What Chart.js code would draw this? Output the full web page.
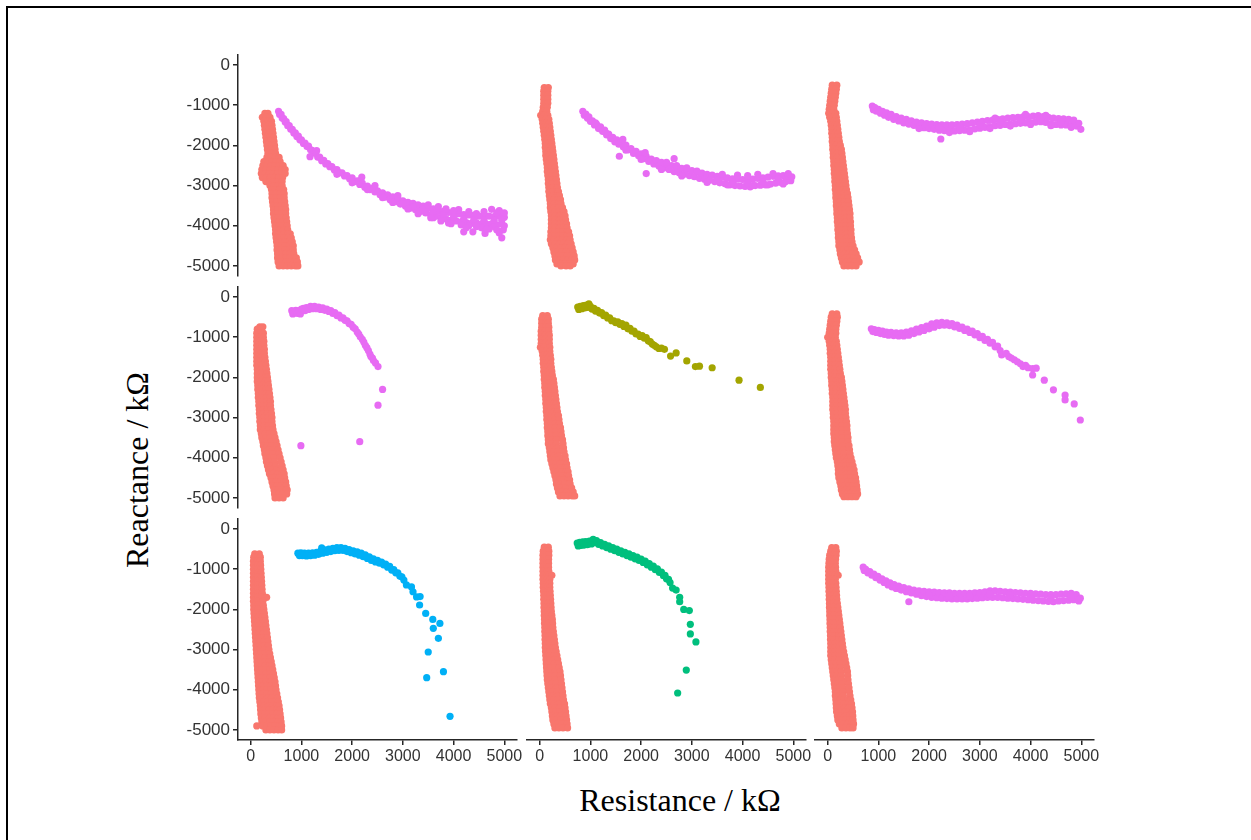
<!DOCTYPE html>
<html><head><meta charset="utf-8">
<script src="https://cdn.jsdelivr.net/npm/chart.js@4.4.0/dist/chart.umd.min.js"></script>
<style>
html,body{margin:0;padding:0;background:#fff;}
body{width:1251px;height:840px;overflow:hidden;position:relative;}
.frame{position:absolute;left:6px;top:6px;width:1400px;height:1000px;border-left:2.5px solid #000;border-top:2.5px solid #000;}
canvas{position:absolute;}
.title{position:absolute;font-family:'Liberation Serif','Times New Roman',serif;font-size:32px;color:#000;white-space:nowrap;line-height:1;}
</style></head><body>
<div class="frame"></div>
<div class="title" id="ytitle" style="left:137px;top:470px;transform:translate(-50%,-50%) rotate(-90deg);">Reactance / kΩ</div>
<div class="title" id="xtitle" style="left:680px;top:800px;transform:translate(-50%,-50%);">Resistance / kΩ</div>
<script>
// ---- colours ----
const RED = '#F8766D', MAGENTA = '#E76BF3', OLIVE = '#A3A500', GREEN = '#00BF7D', BLUE = '#00B0F6';
// ---- axes ----
const xTicks = [0, 1000, 2000, 3000, 4000, 5000];
const yTicks = [0, -1000, -2000, -3000, -4000, -5000];
const xRange = [-250, 5250];
const yRange = [-5250, 250];

// ---- data ----
// Red (reference) streaks: each row is [Reactance, Resistance, Resistance, ...] read off one horizontal slice
const panel1Red = [[-1200,280,340],[-1300,230,310,380],[-1400,260,340,410],[-1500,270,350,420],[-1600,280,360,430],[-1700,290,370,440],[-1800,300,380,450],[-1900,310,390,460],[-2000,320,400,470],[-2100,330,410,480],[-2200,340,420,490],[-2300,320,400,480,560],[-2400,260,340,420,500,580],[-2500,240,320,400,480,560,640],[-2600,220,300,380,460,540,620,680],[-2700,210,290,370,450,530,610,680],[-2800,230,310,390,470,550,630],[-2900,300,380,460,540,620],[-3000,380,460,540,620],[-3100,410,490,570,650],[-3200,420,500,580,660],[-3300,420,500,580,660],[-3400,430,510,590,670],[-3500,440,520,600,680],[-3600,450,530,610,690],[-3700,450,530,610,690],[-3800,460,540,620,700],[-3900,470,550,630,710],[-4000,480,560,640,720],[-4100,490,570,650,730],[-4200,490,570,650,730,780],[-4300,500,580,660,740,800],[-4400,510,590,670,750,820],[-4500,520,600,680,760,840],[-4600,520,600,680,760,840],[-4700,530,610,690,770,850],[-4800,530,610,690,770,850,900],[-4900,540,620,700,780,860,920],[-5000,560,640,720,800,880,930]];
const panel2Red = [[-560,90,170],[-650,80,160],[-750,80,160],[-850,80,160],[-950,80,160],[-1050,70,150],[-1150,60,140],[-1250,20,90,160],[-1350,50,120,180],[-1450,60,130,190],[-1550,70,140,200],[-1650,80,150,210],[-1750,90,160,220],[-1850,100,170,230],[-1950,110,180,240],[-2050,110,180,250],[-2150,120,190,260],[-2250,120,190,270],[-2350,130,200,280],[-2450,140,210,290],[-2550,150,220,300],[-2650,150,230,310],[-2750,160,240,320],[-2850,170,250,330],[-2950,170,250,340],[-3050,180,260,350],[-3150,180,260,340,370],[-3250,190,270,350,390],[-3350,200,280,360,410],[-3450,210,290,370,420],[-3550,210,290,370,450],[-3650,220,300,380,460,480],[-3750,230,310,390,470,500],[-3850,230,310,390,470,510],[-3950,230,310,390,470,530],[-4050,230,310,390,470,540],[-4150,220,300,380,460,540,570],[-4250,220,300,380,460,540,590],[-4350,210,290,370,450,530,600],[-4450,230,310,390,470,550,620],[-4550,260,340,420,500,580,640],[-4650,280,360,440,520,600,660],[-4750,300,380,460,540,620,680],[-4850,310,390,470,550,630,690],[-4950,340,420,500,580,660],[-5000,420,520,600]];
const panel3Red = [[-500,90,180],[-600,80,170],[-700,70,160],[-800,60,150],[-900,50,140],[-1000,40,130],[-1100,30,120],[-1200,20,100,160],[-1300,40,110,170],[-1400,60,130,180],[-1500,70,140,190],[-1600,80,150,200],[-1700,80,150,210],[-1800,90,160,220],[-1900,90,160,230],[-2000,100,170,250],[-2100,100,180,270],[-2200,110,190,280],[-2300,110,190,290],[-2400,120,200,300],[-2500,120,200,310],[-2600,130,210,320],[-2700,130,210,290,330],[-2800,140,220,300,340],[-2900,140,220,300,350],[-3000,150,230,310,360],[-3100,150,230,310,370],[-3200,160,240,320,390],[-3300,160,240,320,400],[-3400,170,250,330,410],[-3500,170,250,330,420],[-3600,180,260,340,430],[-3700,180,260,340,440],[-3800,190,270,350,440],[-3900,190,270,350,450],[-4000,200,280,360,450],[-4100,200,280,360,460],[-4200,210,290,370,460],[-4300,210,290,370,470],[-4400,220,300,380,480],[-4500,220,300,380,460,500],[-4600,240,320,400,480,530],[-4700,250,330,410,490,560],[-4800,270,350,430,510,590],[-4900,290,370,450,530,620],[-5000,320,400,480,560]];
const panel4Red = [[-740,180,240],[-800,130,210],[-900,120,200,250],[-1000,120,190,250],[-1100,120,190,260],[-1200,120,190,260],[-1300,120,190,270],[-1400,120,200,270],[-1500,120,200,280],[-1600,120,200,290],[-1700,120,200,300],[-1800,130,210,310],[-1900,130,210,320],[-2000,130,210,290,330],[-2100,130,210,290,340],[-2200,140,220,300,350],[-2300,140,220,300,360],[-2400,150,230,310,370],[-2500,150,230,310,380],[-2600,160,240,320,390],[-2700,160,240,320,390],[-2800,170,250,330,400],[-2900,170,250,330,410],[-3000,180,260,340,420],[-3100,180,260,340,420],[-3200,190,270,350,430],[-3300,190,270,350,440],[-3400,210,290,370,460],[-3500,220,300,380,480],[-3600,240,320,400,500],[-3700,250,330,410,520],[-3800,270,350,430,540],[-3900,280,360,440,560],[-4000,300,380,460,580],[-4100,310,390,470,600],[-4200,330,410,490,620],[-4300,350,430,510,590,640],[-4400,370,450,530,610,660],[-4500,400,480,560,640,670],[-4600,420,500,580,660,690],[-4700,440,520,600,680,700],[-4800,460,540,620,700,720],[-4900,470,550,630,710],[-5000,480,560,640]];
const panel5Red = [[-460,60,150],[-550,40,120,170],[-650,40,120,170],[-750,40,120,180],[-850,30,110,180],[-950,30,110,190],[-1050,30,110,190],[-1150,30,110,190],[-1250,14,90,200],[-1350,50,130,200],[-1450,60,140,210],[-1550,70,150,220],[-1650,70,150,220],[-1750,80,160,230],[-1850,80,160,240],[-1950,90,170,250],[-2050,90,170,270],[-2150,100,180,280],[-2250,100,180,290],[-2350,110,190,300],[-2450,110,190,310],[-2550,120,200,320],[-2650,120,200,280,330],[-2750,130,210,290,340],[-2850,130,210,290,350],[-2950,140,220,300,370],[-3050,140,220,300,380],[-3150,150,230,310,390],[-3250,150,230,310,410],[-3350,160,240,320,420],[-3450,160,240,320,430],[-3550,170,250,330,450],[-3650,170,250,330,460],[-3750,190,270,350,470],[-3850,200,280,360,480],[-3950,210,290,370,500],[-4050,220,300,380,460,510],[-4150,240,320,400,480,530],[-4250,260,340,420,500,540],[-4350,280,360,440,520,560],[-4450,300,380,460,540,570],[-4550,320,400,480,560,590],[-4650,330,410,490,570,600],[-4750,350,430,510,590,630],[-4850,370,450,530,610,660],[-4950,400,480,560,640,690]];
const panel6Red = [[-420,90,180],[-500,70,150,190],[-600,60,140,180],[-700,50,130,170],[-800,40,120,160],[-900,30,110,160],[-1000,0,80,150],[-1100,30,110,170],[-1200,40,120,180],[-1300,50,130,190],[-1400,50,130,200],[-1500,60,140,210],[-1600,60,140,220],[-1700,60,140,230],[-1800,60,140,240],[-1900,70,150,250],[-2000,70,150,230,270],[-2100,80,160,240,280],[-2200,80,160,240,290],[-2300,90,170,250,300],[-2400,90,170,250,310],[-2500,100,180,260,320],[-2600,100,180,260,330],[-2700,100,180,260,340],[-2800,100,180,260,350],[-2900,110,190,270,350],[-3000,110,190,270,360],[-3100,120,200,280,370],[-3200,120,200,280,380],[-3300,120,200,280,380],[-3400,120,200,280,390],[-3500,130,210,290,400],[-3600,130,210,290,400],[-3700,140,220,300,420],[-3800,150,230,310,430],[-3900,160,240,320,440],[-4000,170,250,330,410,460],[-4100,190,270,350,430,480],[-4200,200,280,360,440,500],[-4300,210,290,370,450,520],[-4400,210,290,370,450,530],[-4500,220,300,380,460,550],[-4600,240,320,400,480,560],[-4700,260,340,420,500,570],[-4800,270,350,430,510,580],[-4900,290,370,450,530,590],[-4970,320,400,480,560]];
const panel7Red = [[-620,80,170],[-700,60,140,190],[-800,55,135,190],[-900,55,135,195],[-1000,55,135,200],[-1100,55,135,205],[-1200,55,135,210],[-1300,55,135,215],[-1400,55,135,220],[-1500,55,135,225],[-1600,55,135,230],[-1700,55,135,215,315],[-1800,55,135,240],[-1900,60,140,250],[-2000,60,140,260],[-2100,65,145,225,270],[-2200,70,150,230,280],[-2300,75,155,235,290],[-2400,80,160,240,300],[-2500,85,165,245,310],[-2600,90,170,250,320],[-2700,95,175,255,330],[-2800,100,180,260,340],[-2900,105,185,265,350],[-3000,110,190,270,360],[-3100,115,195,275,355,375],[-3200,120,200,280,360,390],[-3300,125,205,285,365,405],[-3400,130,210,290,370,420],[-3500,135,215,295,375,435],[-3600,140,220,300,380,450],[-3700,145,225,305,385,465],[-3800,150,230,310,390,480],[-3900,155,235,315,395,490],[-4000,160,240,320,400,500],[-4100,165,245,325,405,515],[-4200,170,250,330,410,530],[-4300,180,260,340,420,545],[-4400,190,270,350,430,510,560],[-4500,195,275,355,435,515,570],[-4600,200,280,360,440,520,580],[-4700,210,290,370,450,530,590],[-4800,220,300,380,460,540,600],[-4900,120,240,320,400,480,560,610],[-5000,300,380,460,540,610]];
const panel8Red = [[-450,90,170],[-550,70,150,180],[-650,65,145,180],[-750,65,145,175],[-850,65,145,175],[-950,65,145,175],[-1050,65,145,180],[-1150,65,145,190,240],[-1250,65,145,200],[-1350,70,150,200],[-1450,70,150,200],[-1550,75,155,205],[-1650,80,160,210],[-1750,80,160,215],[-1850,85,165,220],[-1950,85,165,225],[-2050,90,170,230],[-2150,90,170,240],[-2250,95,175,250],[-2350,95,175,255],[-2450,100,180,260],[-2550,100,180,270],[-2650,105,185,280],[-2750,105,185,290],[-2850,110,190,300],[-2950,110,190,270,310],[-3050,115,195,275,325],[-3150,120,200,280,340],[-3250,125,205,285,355],[-3350,130,210,290,370],[-3450,135,215,295,385],[-3550,140,220,300,400],[-3650,145,225,305,410],[-3750,150,230,310,420],[-3850,160,240,320,430],[-3950,170,250,330,440],[-4050,180,260,340,450],[-4150,190,270,350,460],[-4250,200,280,360,470],[-4350,210,290,370,490],[-4450,230,310,390,500],[-4550,240,320,400,510],[-4650,250,330,410,520],[-4750,260,340,420,530],[-4850,280,360,440,540],[-4950,300,380,460,550]];
const panel9Red = [[-460,80,160],[-550,60,140,170],[-650,40,120,165],[-750,30,110,155],[-850,25,105,150],[-950,20,100,155],[-1050,20,100,160],[-1150,20,100,140,207],[-1250,20,100,150],[-1350,20,100,160],[-1450,25,105,165],[-1550,25,105,170],[-1650,30,110,175],[-1750,30,110,180],[-1850,35,115,190],[-1950,35,115,200],[-2050,40,120,210],[-2150,40,120,220],[-2250,45,125,230],[-2350,45,125,240],[-2450,50,130,250],[-2550,50,130,210,260],[-2650,55,135,215,270],[-2750,55,135,215,280],[-2850,60,140,220,290],[-2950,60,140,220,300],[-3050,60,140,220,315],[-3150,60,140,220,330],[-3250,70,150,230,345],[-3350,80,160,240,360],[-3450,90,170,250,375],[-3550,100,180,260,390],[-3650,110,190,270,395],[-3750,120,200,280,400],[-3850,130,210,290,410],[-3950,140,220,300,420],[-4050,150,230,310,430],[-4150,150,230,310,440],[-4250,160,240,320,400,455],[-4350,165,245,325,405,470],[-4450,170,250,330,410,480],[-4550,175,255,335,415,490],[-4650,190,270,350,430,495],[-4750,200,280,360,440,500],[-4850,230,310,390,470,510],[-4950,280,360,440,500]];

// Coloured streaks: [Resistance, Reactance] pairs
const panel1Magenta = [[550,-1150],[570,-1230],[600,-1230],[620,-1320],[650,-1330],[680,-1420],[700,-1410],[730,-1510],[760,-1510],[790,-1600],[820,-1600],[850,-1690],[880,-1690],[910,-1780],[940,-1770],[970,-1860],[1000,-1860],[1040,-1950],[1070,-1940],[1110,-2030],[1140,-2020],[1180,-2110],[1210,-2120],[1250,-2190],[1280,-2190],[1300,-2130],[1170,-2280],[1320,-2290],[1360,-2290],[1400,-2380],[1440,-2370],[1480,-2460],[1520,-2450],[1560,-2530],[1600,-2530],[1650,-2610],[1700,-2600],[1750,-2680],[1800,-2680],[1850,-2760],[1900,-2750],[1950,-2830],[2000,-2810],[2050,-2900],[2100,-2880],[2150,-2970],[2190,-2790],[2200,-2940],[2250,-3040],[2300,-3010],[2350,-3100],[2400,-3070],[2450,-3160],[2500,-3130],[2550,-3230],[2600,-3180],[2650,-3290],[2700,-3230],[2750,-3350],[2800,-3280],[2850,-3400],[2900,-3320],[2950,-3460],[3000,-3380],[3050,-3510],[3100,-3420],[3150,-3560],[3200,-3440],[3250,-3600],[3300,-3480],[3350,-3640],[3400,-3510],[3450,-3680],[3500,-3560],[3550,-3720],[3600,-3580],[3650,-3760],[3700,-3620],[3750,-3790],[3800,-3640],[3850,-3830],[3900,-3670],[3950,-3860],[4000,-3690],[4050,-3880],[4100,-3700],[4150,-3900],[4200,-3720],[4250,-3920],[4300,-3730],[4350,-3940],[4400,-3740],[4450,-3930],[4500,-3760],[4550,-3950],[4600,-3770],[4650,-3960],[4700,-3760],[4750,-3950],[4800,-3770],[4850,-3980],[4900,-3760],[4950,-3950],[5000,-3790],[3000,-3450],[3200,-3520],[3400,-3590],[3600,-3670],[3800,-3720],[4000,-3780],[4200,-3820],[4400,-3840],[4600,-3860],[4800,-3860],[4950,-3860],[4200,-4150],[4380,-4150],[4620,-4190],[4950,-4300],[4980,-4100],[4750,-3590],[4900,-3620],[3700,-3520],[4100,-3600],[2450,-3000],[2900,-3250],[3300,-3700],[3600,-3800],[3900,-3930],[4300,-4000],[4550,-4050],[4800,-4020],[4700,-4080],[4450,-3700],[3500,-3480],[3850,-3580],[3550,-3800],[3750,-3880],[3950,-3950],[4150,-3980],[4250,-4050],[4450,-4020],[4650,-4080],[4850,-4100],[4900,-4180],[5000,-4000],[4000,-3620],[4300,-3650],[4600,-3650],[4850,-3680],[5000,-3680],[2600,-3300],[2800,-3420],[3100,-3580],[2300,-3100],[2000,-2930],[1700,-2720]];
const panel2Magenta = [[850,-1150],[880,-1250],[910,-1220],[940,-1320],[970,-1290],[1000,-1400],[1040,-1390],[1080,-1490],[1120,-1470],[1160,-1580],[1200,-1540],[1240,-1650],[1280,-1620],[1320,-1740],[1360,-1720],[1400,-1830],[1440,-1800],[1480,-1910],[1520,-1860],[1560,-1970],[1600,-1930],[1650,-2040],[1700,-1990],[1750,-2110],[1800,-2080],[1850,-2200],[1900,-2150],[1950,-2260],[2000,-2210],[2050,-2330],[2100,-2270],[2150,-2400],[2200,-2340],[2250,-2460],[2300,-2380],[2350,-2510],[2400,-2420],[2450,-2560],[2500,-2460],[2550,-2600],[2600,-2500],[2650,-2650],[2700,-2540],[2750,-2680],[2800,-2570],[2850,-2720],[2900,-2600],[2950,-2750],[3000,-2630],[3050,-2780],[3100,-2660],[3150,-2820],[3200,-2690],[3250,-2840],[3300,-2720],[3350,-2870],[3400,-2740],[3450,-2900],[3500,-2770],[3550,-2930],[3600,-2790],[3650,-2950],[3700,-2810],[3750,-2980],[3800,-2830],[3850,-3000],[3900,-2840],[3950,-3010],[4000,-2850],[4050,-3020],[4100,-2840],[4150,-3030],[4200,-2840],[4250,-3000],[4300,-2820],[4350,-2990],[4400,-2810],[4450,-2980],[4500,-2790],[4550,-2960],[4600,-2770],[4650,-2940],[4700,-2760],[4750,-2920],[4800,-2750],[4850,-2900],[4900,-2760],[4950,-2880],[4970,-2780],[1570,-2270],[2100,-2700],[2650,-2330],[1640,-1850],[2080,-2180],[3500,-2850],[3800,-2910],[4100,-2930],[4400,-2900],[4700,-2840],[4100,-2750],[4300,-2720],[4600,-2700],[4900,-2700],[4200,-3000],[4500,-2980],[4800,-2960],[3600,-2720],[3900,-2740],[3700,-2980],[3300,-2920],[3100,-2640],[2900,-2560],[2700,-2500],[2500,-2420],[2800,-2760],[2400,-2600],[2000,-2350],[1700,-2120],[1300,-1680],[1100,-1440]];
const panel3Magenta = [[880,-1020],[900,-1110],[930,-1060],[960,-1150],[1000,-1100],[1040,-1200],[1080,-1150],[1120,-1250],[1160,-1190],[1200,-1300],[1250,-1230],[1300,-1350],[1350,-1280],[1400,-1390],[1450,-1320],[1500,-1440],[1550,-1350],[1600,-1470],[1650,-1390],[1700,-1500],[1750,-1420],[1800,-1530],[1850,-1440],[1900,-1560],[1950,-1460],[2000,-1580],[2050,-1470],[2100,-1600],[2150,-1480],[2200,-1620],[2230,-1840],[2250,-1490],[2300,-1630],[2350,-1490],[2400,-1630],[2450,-1490],[2500,-1640],[2550,-1480],[2600,-1630],[2650,-1470],[2700,-1620],[2750,-1460],[2800,-1610],[2850,-1440],[2900,-1590],[2950,-1420],[3000,-1570],[3050,-1400],[3100,-1550],[3150,-1380],[3200,-1530],[3250,-1370],[3300,-1510],[3350,-1350],[3400,-1500],[3450,-1340],[3500,-1480],[3550,-1320],[3600,-1470],[3650,-1310],[3700,-1460],[3750,-1300],[3800,-1450],[3850,-1290],[3900,-1440],[3950,-1280],[4000,-1430],[4050,-1270],[4100,-1420],[4150,-1260],[4200,-1410],[4250,-1280],[4300,-1430],[4350,-1300],[4400,-1460],[4450,-1320],[4500,-1480],[4550,-1330],[4600,-1490],[4650,-1340],[4700,-1490],[4750,-1350],[4800,-1500],[4850,-1370],[4900,-1520],[4950,-1450],[4990,-1600],[2200,-1550],[2600,-1550],[3000,-1490],[3400,-1420],[3800,-1370],[4200,-1340],[4600,-1410],[2400,-1680],[2800,-1660],[3200,-1580],[3600,-1520],[4000,-1480],[4400,-1510],[4800,-1550],[1800,-1580],[3300,-1320],[3900,-1230],[4300,-1250]];
const panel4Magenta = [[810,-340],[830,-420],[860,-390],[890,-330],[920,-410],[950,-340],[980,-420],[1000,-300],[1040,-280],[1070,-340],[1100,-260],[1140,-310],[1180,-230],[1220,-290],[1260,-230],[1300,-290],[1340,-250],[1380,-310],[1420,-270],[1460,-330],[1500,-300],[1540,-360],[1580,-340],[1620,-410],[1660,-390],[1700,-460],[1740,-450],[1780,-520],[1820,-520],[1860,-580],[1900,-590],[1940,-660],[1980,-680],[2020,-750],[2060,-790],[2100,-870],[2130,-920],[2160,-990],[2200,-1050],[2230,-1120],[2260,-1200],[2290,-1260],[2320,-1330],[2350,-1420],[2370,-1480],[2400,-1520],[2420,-1580],[2460,-1640],[2510,-1730],[2600,-2300],[2510,-2690],[990,-3700],[2150,-3600]];
const panel5Olive = [[750,-250],[770,-310],[800,-230],[830,-290],[860,-210],[890,-270],[920,-200],[950,-260],[970,-170],[1000,-230],[1030,-300],[1070,-280],[1100,-350],[1140,-330],[1180,-400],[1220,-390],[1260,-460],[1300,-450],[1340,-520],[1380,-520],[1420,-590],[1460,-590],[1500,-640],[1540,-620],[1580,-680],[1620,-660],[1660,-730],[1700,-700],[1740,-790],[1780,-780],[1820,-850],[1860,-850],[1900,-920],[1940,-920],[1980,-980],[2020,-960],[2060,-1020],[2100,-1010],[2140,-1090],[2180,-1110],[2220,-1170],[2260,-1200],[2300,-1240],[2350,-1280],[2400,-1270],[2460,-1300],[2580,-1470],[2690,-1390],[2900,-1590],[3070,-1730],[3150,-1720],[3400,-1760],[3930,-2070],[4350,-2250]];
const panel6Magenta = [[860,-790],[890,-860],[920,-810],[960,-880],[1000,-830],[1040,-910],[1080,-850],[1120,-930],[1160,-870],[1200,-950],[1250,-880],[1300,-960],[1350,-890],[1400,-970],[1450,-890],[1500,-970],[1550,-870],[1600,-950],[1650,-840],[1700,-910],[1750,-800],[1800,-870],[1850,-760],[1900,-830],[1950,-720],[2000,-790],[2050,-670],[2100,-750],[2150,-640],[2200,-710],[2250,-630],[2300,-700],[2350,-640],[2400,-710],[2450,-660],[2500,-740],[2550,-700],[2600,-780],[2650,-750],[2700,-830],[2750,-800],[2800,-880],[2850,-850],[2900,-940],[2950,-910],[3000,-1010],[3050,-980],[3100,-1080],[3150,-1050],[3200,-1150],[3250,-1130],[3300,-1240],[3350,-1220],[3400,-1330],[3430,-1440],[3520,-1400],[3570,-1480],[3620,-1520],[3680,-1560],[3740,-1610],[3800,-1660],[3850,-1730],[3900,-1700],[3950,-1760],[4040,-1780],[4110,-1770],[4040,-1940],[4270,-2070],[4450,-2310],[4680,-2440],[4680,-2560],[4860,-2660],[4980,-3060]];
const panel7Blue = [[930,-600],[960,-660],[990,-590],[1020,-660],[1060,-600],[1100,-670],[1140,-600],[1180,-660],[1220,-590],[1260,-650],[1300,-580],[1340,-630],[1380,-540],[1400,-470],[1420,-600],[1460,-520],[1500,-580],[1540,-500],[1580,-560],[1620,-480],[1660,-540],[1700,-460],[1740,-530],[1780,-460],[1820,-530],[1860,-480],[1900,-560],[1940,-510],[1980,-590],[2020,-540],[2060,-620],[2100,-570],[2140,-650],[2180,-600],[2220,-690],[2260,-640],[2300,-730],[2340,-690],[2380,-780],[2420,-740],[2460,-820],[2500,-780],[2540,-850],[2580,-820],[2620,-890],[2660,-870],[2700,-950],[2740,-930],[2780,-1020],[2820,-1010],[2860,-1090],[2900,-1090],[2940,-1170],[2980,-1190],[3020,-1270],[3070,-1390],[3170,-1440],[3200,-1560],[3270,-1690],[3340,-1680],[3330,-1890],[3450,-2100],[3590,-2250],[3730,-2350],[3600,-2470],[3700,-2720],[3500,-3060],[3800,-3550],[3470,-3700],[3930,-4660]];
const panel8Green = [[740,-350],[760,-420],[790,-330],[820,-410],[850,-320],[880,-400],[910,-310],[940,-390],[980,-300],[1020,-370],[1054,-257],[1080,-340],[1120,-290],[1160,-380],[1200,-340],[1240,-420],[1280,-380],[1320,-460],[1360,-420],[1400,-500],[1440,-460],[1480,-540],[1520,-500],[1560,-580],[1600,-540],[1640,-620],[1680,-580],[1720,-660],[1760,-620],[1800,-700],[1840,-660],[1880,-740],[1920,-700],[1960,-780],[2000,-750],[2040,-830],[2080,-800],[2120,-890],[2160,-860],[2200,-950],[2240,-920],[2280,-1010],[2320,-990],[2360,-1080],[2400,-1070],[2440,-1160],[2470,-1150],[2500,-1240],[2540,-1250],[2570,-1330],[2620,-1470],[2690,-1520],[2760,-1700],[2760,-1810],[2840,-2000],[2950,-2030],[2970,-2370],[2970,-2610],[3080,-2810],[2890,-3510],[2720,-4080]];
const panel9Magenta = [[700,-950],[720,-1030],[750,-1000],[790,-1090],[830,-1060],[870,-1150],[910,-1120],[950,-1210],[990,-1180],[1030,-1270],[1070,-1240],[1110,-1330],[1150,-1290],[1190,-1390],[1230,-1340],[1270,-1440],[1310,-1380],[1350,-1480],[1400,-1420],[1450,-1520],[1500,-1460],[1550,-1560],[1600,-1490],[1600,-1810],[1650,-1590],[1700,-1520],[1750,-1620],[1800,-1540],[1850,-1660],[1900,-1550],[1950,-1680],[2000,-1560],[2050,-1700],[2100,-1570],[2150,-1710],[2200,-1580],[2250,-1720],[2300,-1590],[2350,-1730],[2400,-1590],[2450,-1740],[2500,-1600],[2550,-1740],[2600,-1600],[2650,-1740],[2700,-1600],[2750,-1740],[2800,-1600],[2850,-1730],[2900,-1590],[2950,-1720],[3000,-1580],[3050,-1710],[3100,-1560],[3150,-1700],[3200,-1540],[3250,-1700],[3300,-1540],[3350,-1700],[3400,-1550],[3450,-1710],[3500,-1560],[3550,-1720],[3600,-1570],[3650,-1730],[3700,-1580],[3750,-1740],[3800,-1590],[3850,-1750],[3900,-1600],[3950,-1760],[4000,-1600],[4050,-1770],[4100,-1610],[4150,-1780],[4200,-1620],[4250,-1790],[4300,-1630],[4350,-1800],[4400,-1630],[4450,-1810],[4500,-1630],[4550,-1790],[4600,-1620],[4650,-1780],[4700,-1610],[4750,-1770],[4800,-1600],[4850,-1760],[4900,-1630],[4950,-1790],[4980,-1720],[2000,-1640],[2400,-1670],[2800,-1670],[3200,-1620],[3600,-1650],[4000,-1680],[4400,-1720],[4800,-1690]];

// ---- layout ----
const COL_LEFT = [238, 527, 815];
const ROW_TOP = [55, 287, 519];
const PANEL_W = 279, PANEL_H = 221;
const PAD = 24, YW = 78, XH = 30;

// slice rows -> points (each value taken as written)
const fromSlices = rows => rows.flatMap(([y, ...xs]) => xs.map(x => ({x, y})));
const fromPairs = pairs => pairs.map(([x, y]) => ({x, y}));

const panels = [
  {row:0, col:0, red:panel1Red, other:panel1Magenta, color:MAGENTA},
  {row:0, col:1, red:panel2Red, other:panel2Magenta, color:MAGENTA},
  {row:0, col:2, red:panel3Red, other:panel3Magenta, color:MAGENTA},
  {row:1, col:0, red:panel4Red, other:panel4Magenta, color:MAGENTA},
  {row:1, col:1, red:panel5Red, other:panel5Olive, color:OLIVE},
  {row:1, col:2, red:panel6Red, other:panel6Magenta, color:MAGENTA},
  {row:2, col:0, red:panel7Red, other:panel7Blue, color:BLUE},
  {row:2, col:1, red:panel8Red, other:panel8Green, color:GREEN},
  {row:2, col:2, red:panel9Red, other:panel9Magenta, color:MAGENTA}
];

const AXIS_COLOR = '#262626';

panels.forEach(p => {
  const showY = p.col === 0, showX = p.row === 2;
  const cv = document.createElement('canvas');
  const w = PANEL_W + 2 * PAD + (showY ? YW : 0);
  const h = PANEL_H + 2 * PAD + (showX ? XH : 0);
  cv.width = w; cv.height = h;
  cv.style.width = w + 'px'; cv.style.height = h + 'px';
  cv.style.left = (COL_LEFT[p.col] - PAD - (showY ? YW : 0)) + 'px';
  cv.style.top = (ROW_TOP[p.row] - PAD) + 'px';
  document.body.appendChild(cv);
  const pointStyle = {borderWidth: 0, pointRadius: 3.6, pointHoverRadius: 3.6};
  new Chart(cv, {
    type: 'scatter',
    data: {
      datasets: [
        Object.assign({data: fromSlices(p.red), backgroundColor: RED}, pointStyle),
        Object.assign({data: fromPairs(p.other), backgroundColor: p.color}, pointStyle)
      ]
    },
    options: {
      responsive: false,
      animation: false,
      events: [],
      layout: {padding: PAD},
      plugins: {legend: {display: false}, tooltip: {enabled: false}},
      scales: {
        x: {
          type: 'linear', min: xRange[0], max: xRange[1], display: showX,
          afterBuildTicks: s => { s.ticks = xTicks.map(v => ({value: v})); },
          afterFit: s => { if (showX) s.height = XH; },
          grid: {display: true, drawOnChartArea: false, drawTicks: true, tickLength: 5, color: AXIS_COLOR, lineWidth: 1.5},
          border: {display: true, color: AXIS_COLOR, width: 1.5},
          ticks: {font: {family: "'Liberation Sans', Arial, sans-serif", size: 16}, color: '#333', padding: 2, maxRotation: 0, autoSkip: false, callback: v => String(v)}
        },
        y: {
          type: 'linear', min: yRange[0], max: yRange[1], display: showY,
          afterBuildTicks: s => { s.ticks = yTicks.map(v => ({value: v})); },
          afterFit: s => { if (showY) s.width = YW; },
          grid: {display: true, drawOnChartArea: false, drawTicks: true, tickLength: 5, color: AXIS_COLOR, lineWidth: 1.5},
          border: {display: true, color: AXIS_COLOR, width: 1.5},
          ticks: {font: {family: "'Liberation Sans', Arial, sans-serif", size: 17}, color: '#333', padding: 3, autoSkip: false, callback: v => String(v)}
        }
      }
    }
  });
});
</script>
</body></html>
